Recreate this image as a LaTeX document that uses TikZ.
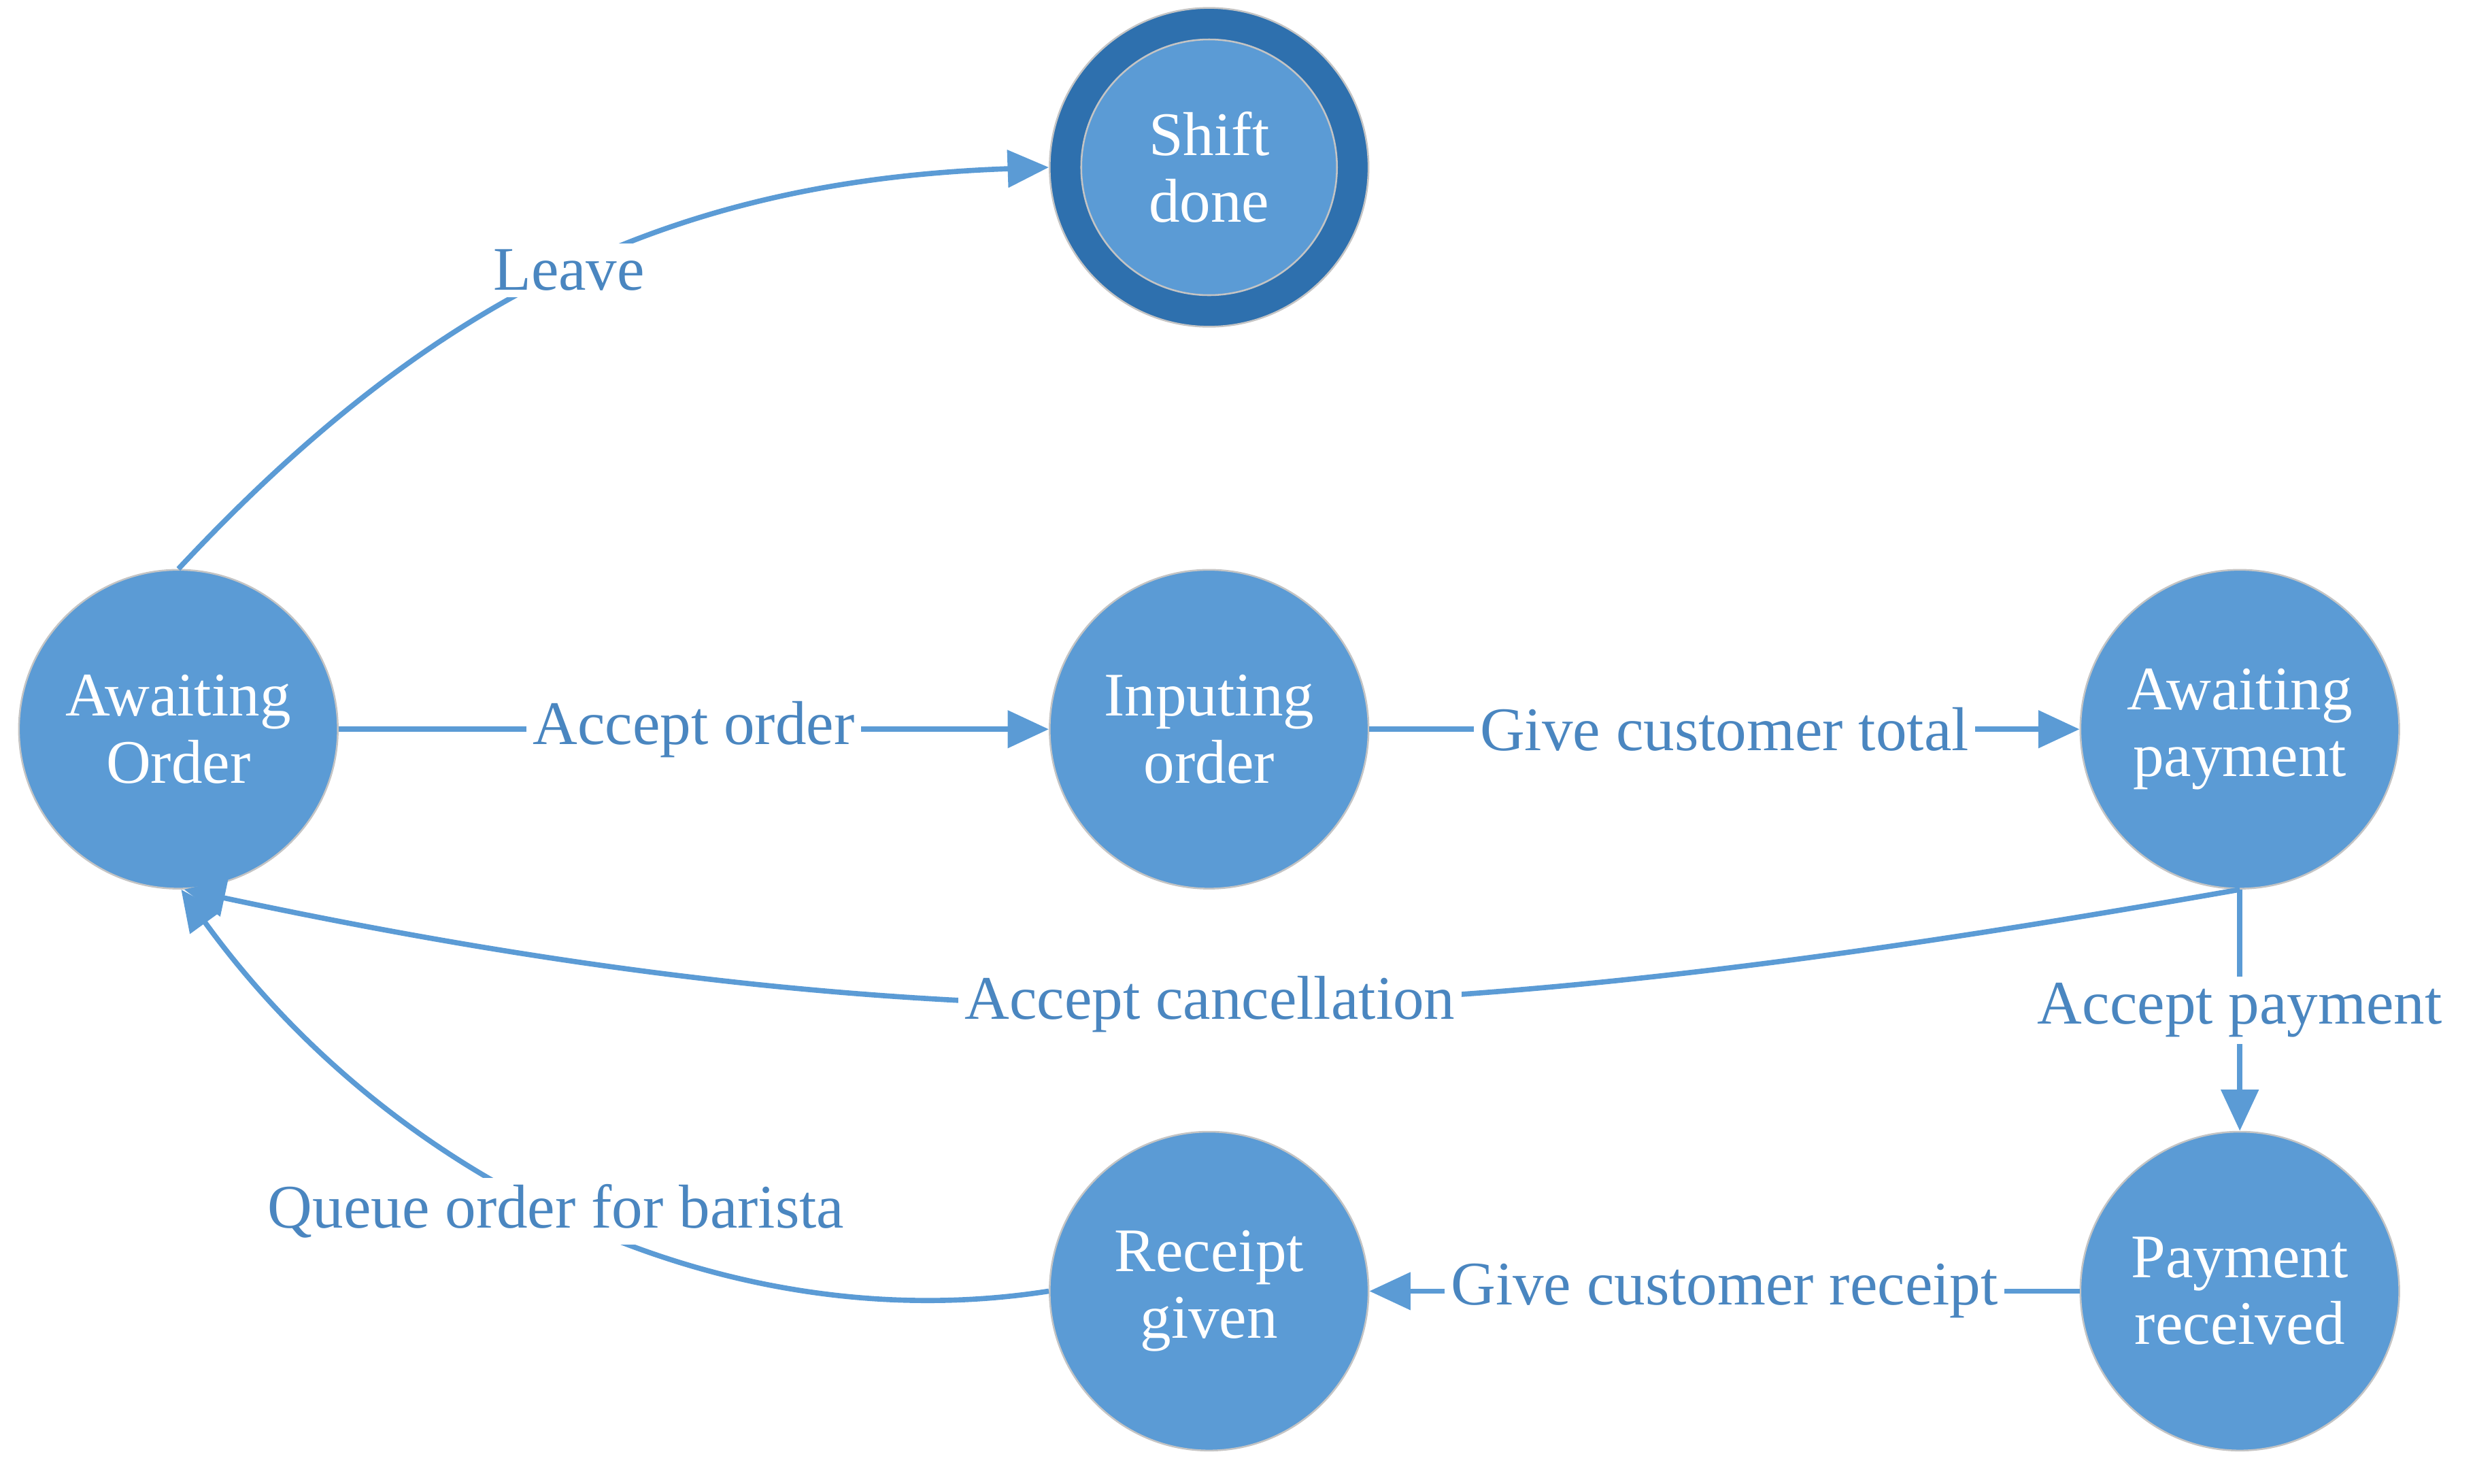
\documentclass[tikz,border=0pt]{standalone}
\usepackage{fontspec}
\setmainfont{Liberation Serif}
\usetikzlibrary{arrows.meta}
\definecolor{stateblue}{HTML}{5B9BD5}
\definecolor{ringblue}{HTML}{2E70AE}
\definecolor{labelblue}{HTML}{4A86C0}
\definecolor{rimgrey}{HTML}{C4C4C4}

\begin{document}
\begin{tikzpicture}[x=0.0128cm, y=0.0128cm,
  state/.style={circle, fill=stateblue, draw=rimgrey, line width=0.4pt, minimum size=2.586cm,
    inner sep=0pt, text=white, align=center, font=\fontsize{14.3}{15.4}\selectfont},
  trans/.style={draw=stateblue, line width=1.2pt, -{Triangle[width=8.5pt,length=9.5pt]}},
  lbl/.style={fill=white, text=labelblue, inner sep=1.5pt, font=\fontsize{14.3}{15.4}\selectfont}]
  \useasboundingbox (0,0) rectangle (1568,-940);
  % states
  \node[state] (wait) at (113,-462) {Awaiting\\Order};
  \node[state] (input) at (766,-462) {Inputing\\order};
  \node[state] (pay) at (1419,-462) {Awaiting\\payment};
  \node[state] (paid) at (1419,-818) {Payment\\received};
  \node[state] (receipt) at (766,-818) {Receipt\\given};
  \node[state, fill=ringblue] (done) at (766,-106) {};
  \node[state, minimum size=2.074cm] (donein) at (done.center) {Shift\\done};
  % transitions
  \draw[trans] (wait.north) to[out=47, in=182] node[lbl, midway] {Leave} (done.west);
  \draw[trans] (wait.east) -- node[lbl] {Accept order} (input.west);
  \draw[trans] (input.east) -- node[lbl] {Give customer total} (pay.west);
  \draw[trans] (pay.south) to[out=190, in=-12] node[lbl, midway] {Accept cancellation} (wait.-88);
  \draw[trans] (pay.south) -- node[lbl] {Accept payment} (paid.north);
  \draw[trans] (paid.west) -- node[lbl] {Give customer receipt} (receipt.east);
  \draw[trans] (receipt.west) .. controls (460,-850) and (250,-750) .. node[lbl, pos=0.52] {Queue order for barista} (wait.-89);
\end{tikzpicture}
\end{document}
